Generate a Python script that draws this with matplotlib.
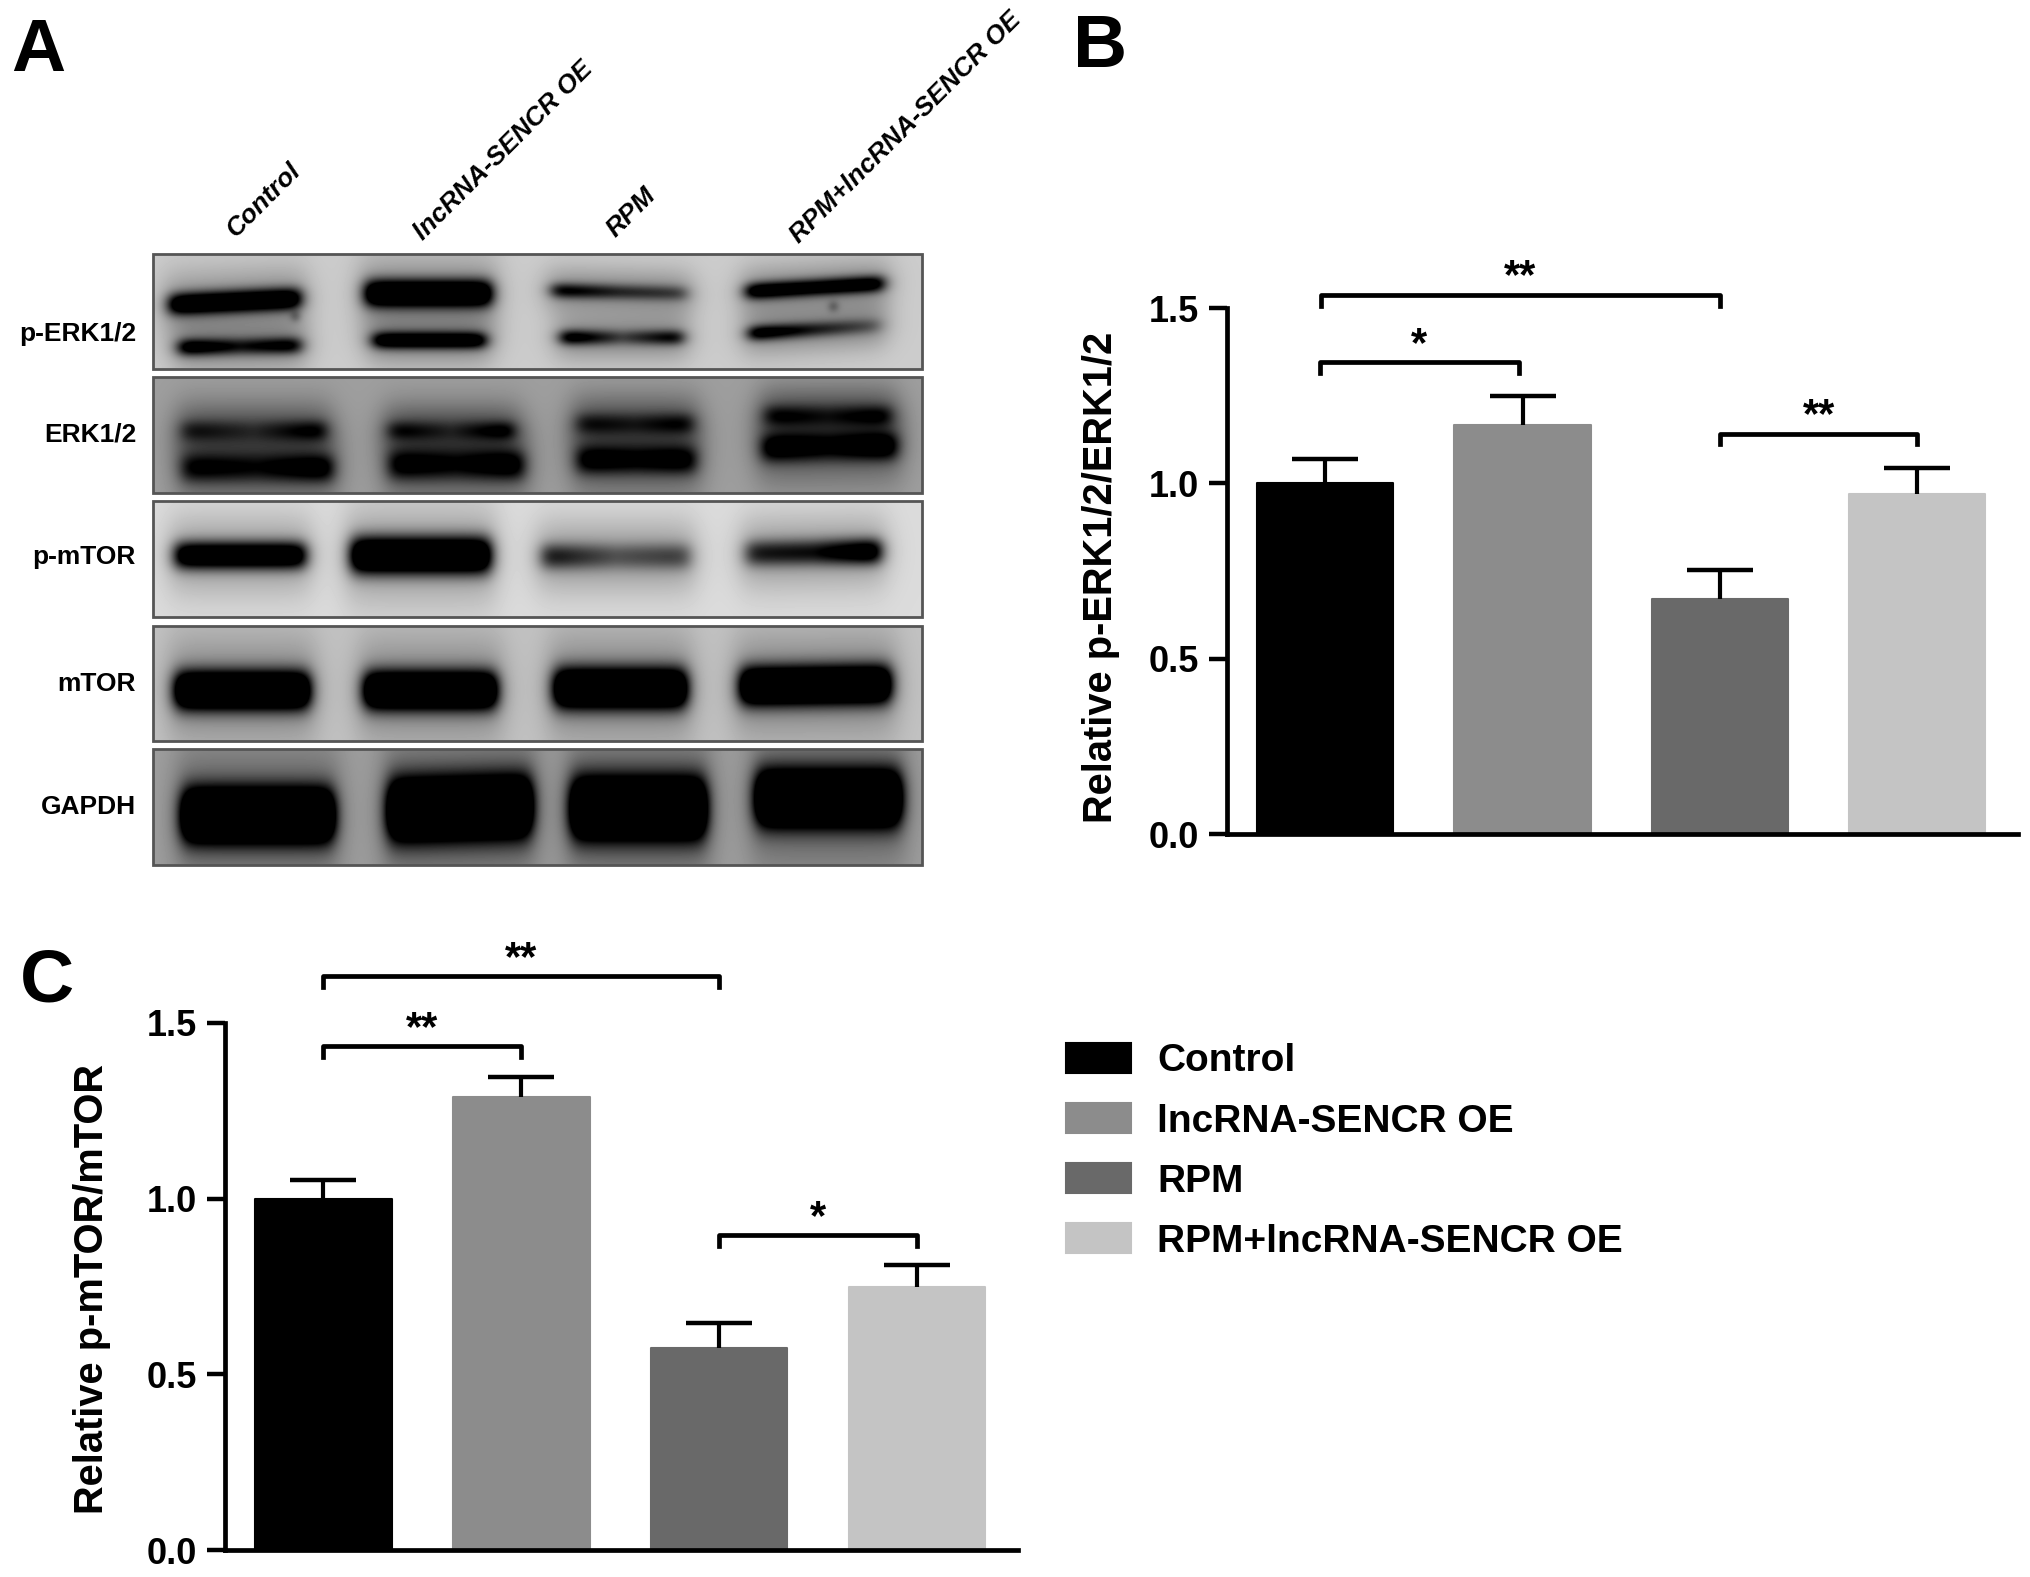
import numpy as np
import matplotlib
matplotlib.use('Agg')
import matplotlib.pyplot as plt
from matplotlib.patches import Rectangle

plt.rcParams['font.family'] = ['Liberation Sans', 'DejaVu Sans']
plt.rcParams['font.weight'] = 'bold'
plt.rcParams['axes.labelweight'] = 'bold'

W, H = 2031, 1577

groups = ['Control', 'lncRNA-SENCR OE', 'RPM', 'RPM+lncRNA-SENCR OE']
lane_labels = ['Control', 'lncRNA-SENCR OE', 'RPM', 'RPM+lncRNA-SENCR OE']
colors = ['#000000', '#8c8c8c', '#696969', '#c4c4c4']
yticks = [0.0, 0.5, 1.0, 1.5]

# panel B
erk_means = [1.00, 1.165, 0.67, 0.97]
erk_tops = [1.07, 1.25, 0.753, 1.045]
erk_brackets = [(-0.02, 2, 1.537, '**'), (-0.025, 0.98, 1.345, '*'), (2, 3, 1.142, '**')]

# panel C
mtor_means = [1.00, 1.29, 0.575, 0.748]
mtor_tops = [1.054, 1.345, 0.645, 0.81]
mtor_brackets = [(0, 2, 1.633, '**'), (0, 1, 1.434, '**'), (2, 3, 0.896, '*')]

# blot bands: x0, x1, y0, y1, half height, darkness left, middle, right
perk_bands = [(169, 300, 304, 298, 10, 1.0, 1.0, 1.0), (179, 300, 347, 345, 7, .95, .55, .8),
              (365, 491, 293, 293, 13, 1.1, 1.1, 1.1), (373, 485, 340, 340, 7, .95, .95, .95),
              (552, 686, 290, 293, 6, .8, .5, .4), (561, 682, 337, 337, 6, 1.0, .35, .8),
              (746, 883, 291, 283, 7, 1.0, .9, .95), (749, 880, 333, 325, 6, 1.0, .55, .25),
              (293, 297, 316, 316, 3, .8, .8, .8), (831, 835, 306, 306, 3, .8, .8, .8)]
terk_bands = [(182, 325, 430, 430, 9, .28, .12, .42), (182, 332, 468, 468, 13, .42, .32, .55),
              (389, 513, 430, 430, 8, .35, .12, .45), (389, 523, 465, 465, 14, .48, .35, .55),
              (577, 692, 423, 423, 9, .3, .2, .36), (577, 695, 460, 460, 13, .5, .4, .5),
              (765, 890, 415, 415, 9, .35, .2, .38), (762, 896, 448, 446, 13, .55, .38, .6)]
pmtor_bands = [(175, 305, 555, 555, 13, 1.0, 1.0, 1.0), (351, 490, 555, 555, 18, 1.2, 1.2, 1.2),
               (542, 689, 556, 556, 12, .6, .3, .4), (746, 880, 553, 551, 12, .55, .6, 1.0)]
tmtor_bands = [(175, 309, 690, 690, 19, 1.2, 1.2, 1.2), (364, 496, 690, 690, 19, 1.2, 1.2, 1.2),
               (554, 686, 688, 688, 20, 1.2, 1.2, 1.2), (740, 890, 686, 684, 19, 1.2, 1.2, 1.2)]
gapdh_bands = [(182, 333, 815, 815, 27, 1.2, 1.2, 1.2), (388, 531, 810, 806, 31, 1.2, 1.2, 1.2),
               (571, 705, 808, 808, 31, 1.2, 1.2, 1.2), (756, 900, 798, 798, 28, 1.2, 1.2, 1.2)]

blot_names = ['p-ERK1/2', 'ERK1/2', 'p-mTOR', 'mTOR', 'GAPDH']
blot_bands = [perk_bands, terk_bands, pmtor_bands, tmtor_bands, gapdh_bands]
blot_rows = [(254, 369), (377, 493), (501, 617), (626, 741), (749, 865)]
blot_bg = [0.80, 0.62, 0.86, 0.76, 0.62]
blot_label_y = [334, 435, 557, 684, 807]
blot_x = (153, 922)


def blur(a, sigma):
    # plain gaussian smoothing, edges padded
    r = int(3 * sigma)
    k = np.exp(-0.5 * (np.arange(-r, r + 1) / sigma) ** 2)
    k = k / k.sum()
    p = np.pad(a, r, mode='edge')
    p = np.apply_along_axis(lambda v: np.convolve(v, k, mode='same'), 0, p)
    p = np.apply_along_axis(lambda v: np.convolve(v, k, mode='same'), 1, p)
    return p[r:-r, r:-r]


def draw_blot(ax, bands, y0, y1, bg):
    X, Y = np.meshgrid(np.arange(blot_x[0], blot_x[1]), np.arange(y0, y1))
    dk = np.zeros(X.shape)
    for x_a, x_b, y_a, y_b, hh, dl, dm, dr in bands:
        t = (X - x_a) / (x_b - x_a)
        yc = y_a + (y_b - y_a) * t
        dark = np.interp(t, [0, .5, 1], [dl, dm, dr])
        soft = min(7, (x_b - x_a) / 2)
        horiz = 0.5 * (np.tanh((X - x_a) / soft) - np.tanh((X - x_b) / soft))
        dk += dark * horiz * np.exp(-np.abs((Y - yc) / hh) ** 2.4)
        if hh > 3:
            halo = 0.5 * (np.tanh((X - x_a + 6) / 14) - np.tanh((X - x_b - 6) / 14))
            dk += 0.26 * halo * np.exp(-((Y - yc) / (2.2 * hh + 10)) ** 2)
    img = bg - blur(dk, 3.5)
    ax.imshow(np.clip(img, 0, 1), cmap='gray', vmin=0, vmax=1, aspect='auto',
              extent=(blot_x[0], blot_x[1], y1, y0), interpolation='bilinear')
    ax.add_patch(Rectangle((blot_x[0], y0), blot_x[1] - blot_x[0], y1 - y0, fill=False,
                           ec='#555555', lw=2))


def bar_panel(ax, means, tops, brackets, ylabel, label_xy):
    x = np.arange(len(means))
    bars = ax.bar(x, means, width=0.69, color=colors, edgecolor=colors, linewidth=1.5,
                  joinstyle='round', zorder=2)
    for i in range(len(means)):
        line, caps, stems = ax.errorbar(x[i], means[i], yerr=[[0], [tops[i] - means[i]]],
                                        color='black', elinewidth=3, capsize=24, capthick=3.2,
                                        zorder=3)
        caps[0].set_visible(False)
    for a, b, y, star in brackets:
        ax.plot([a, a, b, b], [y - 0.03, y, y, y - 0.03], color='black', lw=3.4,
                solid_joinstyle='round', clip_on=False, zorder=4)
        ax.text((a + b) / 2, y + 0.05, star, ha='center', va='center', fontsize=30,
                clip_on=False)
    ax.set_xlim(-0.497, 3.51)
    ax.set_ylim(0, 1.5)
    ax.set_xticks([])
    ax.set_yticks(yticks)
    ax.set_yticklabels(['%.1f' % v for v in yticks])
    ax.tick_params(axis='y', length=13, width=3.2, labelsize=26, pad=7)
    for s in ['top', 'right']:
        ax.spines[s].set_visible(False)
    for s in ['left', 'bottom']:
        ax.spines[s].set_linewidth(3.4)
    ax.set_ylabel(ylabel, fontsize=28.7)
    ax.yaxis.set_label_coords(*label_xy)
    return bars


fig = plt.figure(figsize=(W / 100, H / 100), dpi=100, facecolor='white')

# everything of panel A and the letters sits on one axes in image pixels
ov = fig.add_axes([0, 0, 1, 1])
ov.axis('off')
for bands, (y0, y1), bg in zip(blot_bands, blot_rows, blot_bg):
    draw_blot(ov, bands, y0, y1, bg)
ov.set_xlim(0, W)
ov.set_ylim(H, 0)

for name, y in zip(blot_names, blot_label_y):
    ov.text(136, y, name, ha='right', va='center', fontsize=19)
for label, x, y in zip(lane_labels, [239, 427, 619, 803], [242, 245, 242, 248]):
    ov.text(x, y, label, rotation=45, rotation_mode='anchor', ha='left', va='bottom',
            fontsize=19, style='italic')
ov.text(11, 71, 'A', fontsize=54, va='baseline')
ov.text(1073, 67, 'B', fontsize=54, va='baseline')
ov.text(20, 1001, 'C', fontsize=54, va='baseline')

ax_b = fig.add_axes([1227 / W, 1 - 834 / H, 791 / W, 526 / H])
bars = bar_panel(ax_b, erk_means, erk_tops, erk_brackets, 'Relative p-ERK1/2/ERK1/2', (-0.135, 0.487))
ax_c = fig.add_axes([225 / W, 1 - 1550 / H, 793 / W, 527 / H])
bar_panel(ax_c, mtor_means, mtor_tops, mtor_brackets, 'Relative p-mTOR/mTOR', (-0.144, 0.495))

fig.legend(bars, groups, loc='upper left', bbox_to_anchor=(1066 / W, 1 - 1043 / H), frameon=False,
           fontsize=28, handlelength=1.67, handleheight=0.8, handletextpad=0.67,
           labelspacing=0.61, borderpad=0, borderaxespad=0)

fig.savefig('out.png', dpi=100)
